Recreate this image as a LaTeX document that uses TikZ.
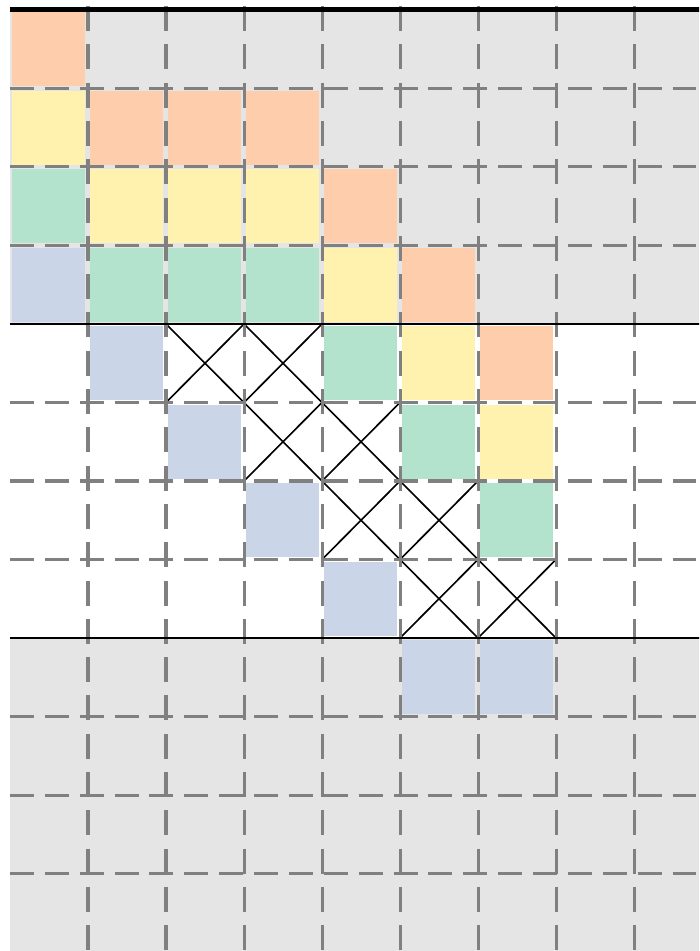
\documentclass[tikz,border=0pt]{standalone}
\usepackage{tikz}
\usepackage{xcolor}
\definecolor{bandgray}{RGB}{229,229,229}
\definecolor{gridgray}{RGB}{128,128,128}
\definecolor{cellpeach}{HTML}{FDCDAC}
\definecolor{cellyellow}{HTML}{FFF2AE}
\definecolor{cellgreen}{HTML}{B3E2CD}
\definecolor{cellblue}{HTML}{CBD5E8}

\begin{document}
\begin{tikzpicture}[
  x=1cm, y=1.0064cm,
  hgrid/.style={gridgray, line width=1.1pt, dash pattern=on 0.307cm off 0.14cm},
  vgrid/.style={gridgray, line width=1.1pt, dash pattern=on 0.32cm off 0.171cm},
  rule/.style={black, line width=1pt},
  toprule/.style={black, line width=1.8pt},
  cross/.style={black, line width=0.6pt},
]
  \clip (-0.128,0.127) rectangle (8.833,-11.987);

  % grey bands
  \fill[bandgray] (0,0) rectangle (9,-4);
  \fill[bandgray] (0,-8) rectangle (9,-12.1);

  % coloured cells (column/row)
  \foreach \c/\r in {0/0,1/1,2/1,3/1,4/2,5/3,6/4}
    \fill[cellpeach] (\c+0.02,-\r-0.03) rectangle (\c+0.96,-\r-0.97);
  \foreach \c/\r in {0/1,1/2,2/2,3/2,4/3,5/4,6/5}
    \fill[cellyellow] (\c+0.02,-\r-0.03) rectangle (\c+0.96,-\r-0.97);
  \foreach \c/\r in {0/2,1/3,2/3,3/3,4/4,5/5,6/6}
    \fill[cellgreen] (\c+0.02,-\r-0.03) rectangle (\c+0.96,-\r-0.97);
  \foreach \c/\r in {0/3,1/4,2/5,3/6,4/7,5/8,6/8}
    \fill[cellblue] (\c+0.02,-\r-0.03) rectangle (\c+0.96,-\r-0.97);

  % crossed cells
  \foreach \c/\r in {2/4,3/4,3/5,4/5,4/6,5/6,5/7,6/7}
    \draw[cross] (\c,-\r) -- (\c+1,-\r-1) (\c+1,-\r) -- (\c,-\r-1);

  % dashed grid
  \foreach \r in {1,2,3,5,6,7,9,10,11}
    \draw[hgrid] (0,-\r) -- (9,-\r);
  \foreach \c in {1,...,8}
    \draw[vgrid] (\c,0.05) -- (\c,-12.1);

  % solid rules
  \draw[toprule] (0,0) -- (9,0);
  \draw[rule] (0,-4) -- (9,-4);
  \draw[rule] (0,-8) -- (9,-8);
\end{tikzpicture}
\end{document}
